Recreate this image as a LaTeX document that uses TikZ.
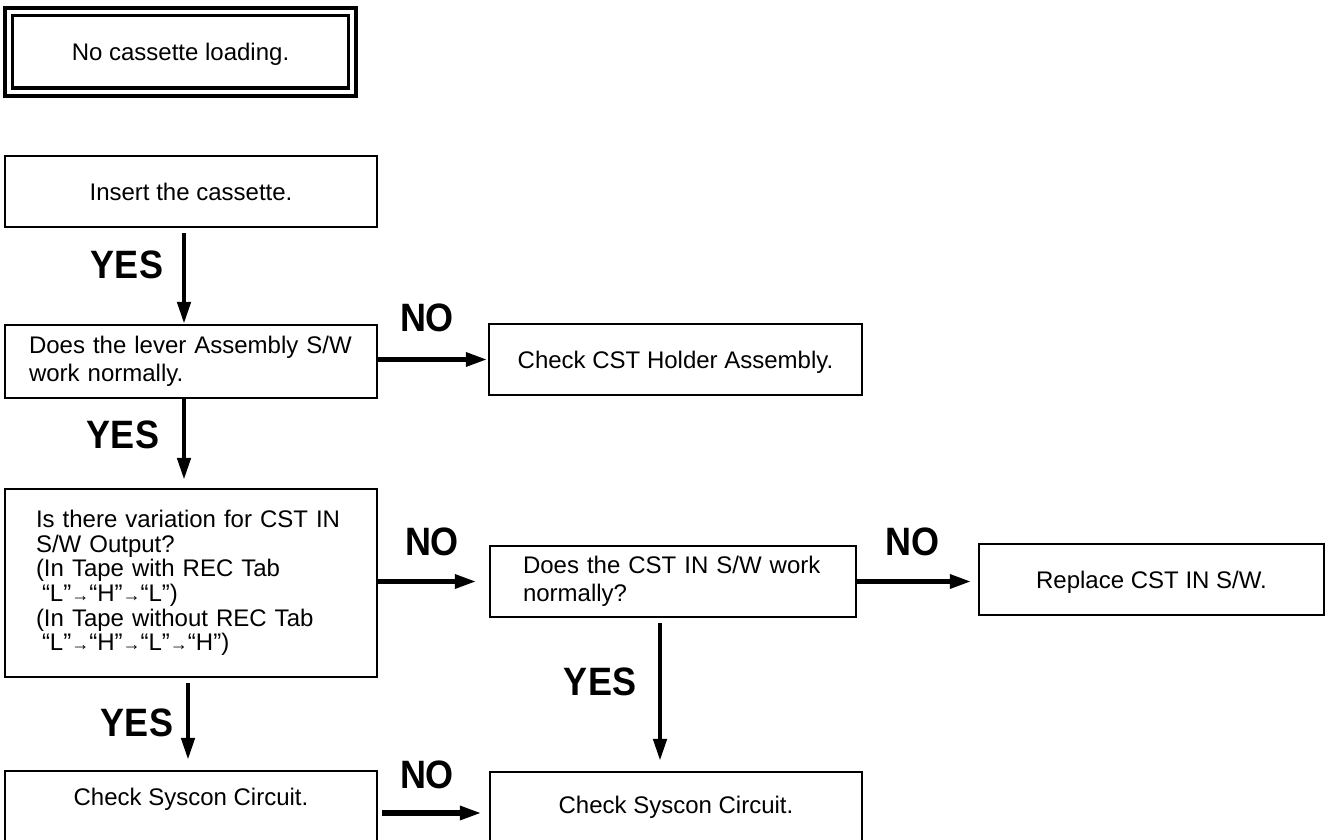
\documentclass[tikz,border=0pt]{standalone}
\usepackage{fontspec}
\setmainfont{Liberation Sans}
\usetikzlibrary{arrows.meta,positioning}
\newcommand{\smallarr}{{\fontsize{9}{9}\selectfont →}}
\newcommand{\answertext}[1]{\scalebox{1}[1.1]{#1}}

\begin{document}
\begin{tikzpicture}[x=0.5pt,y=-0.5pt,
    every node/.style={font=\fontsize{12}{14}\selectfont},
    flowbox/.style={draw,line width=1.1pt,minimum width=186pt,
                    minimum height=35.5pt,inner sep=0pt},
    onebox/.style={flowbox,text height=8.6pt,text depth=0pt},
    leftbox/.style={flowbox,align=left},
    answer/.style={font=\fontsize{18}{18}\selectfont\bfseries},
    down/.style={-{Triangle[length=11pt,width=6.5pt]},line width=2.2pt},
    across/.style={-{Triangle[length=11pt,width=6.5pt]},line width=2.9pt}]
        \clip (0,0) rectangle (1328,840);
        \node[draw,double,double distance=2pt,line width=1.85pt,
              minimum width=171.8pt,minimum height=40.1pt,inner sep=0pt,
              text height=8.6pt,text depth=0pt]
          (trouble) at (180.5,51.8) {No cassette loading.};
        \node[onebox] (insert) at (191,191.5) {Insert the cassette.};
        \node[leftbox,minimum height=36.5pt,text width=162pt,inner xsep=12pt]
          (lever) at (191,361.5) {Does the lever Assembly S/W\\work normally.};
        \node[onebox,minimum width=186.5pt]
          (holder) at (675.5,359.5) {Check CST Holder Assembly.};
        \node[leftbox,minimum height=94pt,text width=155pt,inner xsep=15.5pt,
              font=\fontsize{12}{12.3}\selectfont]
          (vary) at (191,583) {Is there variation for CST IN\\S/W Output?\\(In Tape with REC Tab\\
            \hspace*{3pt}“L”\smallarr“H”\smallarr“L”)\\(In Tape without REC Tab\\
            \hspace*{3pt}“L”\smallarr“H”\smallarr“L”\smallarr“H”)};
        \node[leftbox,minimum width=183pt,text width=150pt,inner xsep=16.5pt]
          (cstsw) at (673,581.5) {Does the CST IN S/W work\\normally?};
        \node[onebox,minimum width=172.5pt]
          (replace) at (1151.5,579.5) {Replace CST IN S/W.};
        \node[flowbox,text height=17pt,text depth=20pt]
          (sysconA) at (191,808) {Check Syscon Circuit.};
        \node[flowbox,text height=20.5pt,text depth=16pt]
          (sysconB) at (676,808.5) {Check Syscon Circuit.};
        \node[answer] (yesA) at (127,265) {\answertext{YES}};
        \node[answer] (yesB) at (123,435) {\answertext{YES}};
        \node[answer] (yesC) at (137,723) {\answertext{YES}};
        \node[answer] (yesD) at (600,682) {\answertext{YES}};
        \node[answer] (noA) at (427,318) {\answertext{NO}};
        \node[answer] (noB) at (432,542) {\answertext{NO}};
        \node[answer] (noC) at (912,542) {\answertext{NO}};
        \node[answer] (noD) at (427,775) {\answertext{NO}};
        \draw[down,shorten <=2.5pt] ([xshift=-3.5pt]insert.south) -- ([xshift=-3.5pt]lever.north);
        \draw[down,shorten >=4pt] ([xshift=-3.5pt]lever.south) -- ([xshift=-3.5pt]vary.north);
        \draw[down,shorten <=2.5pt,shorten >=5pt] ([xshift=-1.5pt]vary.south) -- ([xshift=-1.5pt]sysconA.north);
        \draw[down,shorten <=2.5pt,shorten >=5pt] ([xshift=-6.5pt]cstsw.south) -- ([xshift=-6.5pt]cstsw.south |- sysconB.north);
        \draw[across] (lever.east |- holder.west) -- (holder.west);
        \draw[across,shorten >=6pt] (vary.east |- cstsw.west) -- (cstsw.west);
        \draw[across,shorten >=3pt] (cstsw.east) -- (cstsw.east -| replace.west);
        \draw[across,shorten <=2pt,shorten >=3.5pt] ([yshift=-2.5pt]sysconA.east) -- ([yshift=-2.5pt]sysconA.east -| sysconB.west);
      \end{tikzpicture}
\end{document}
